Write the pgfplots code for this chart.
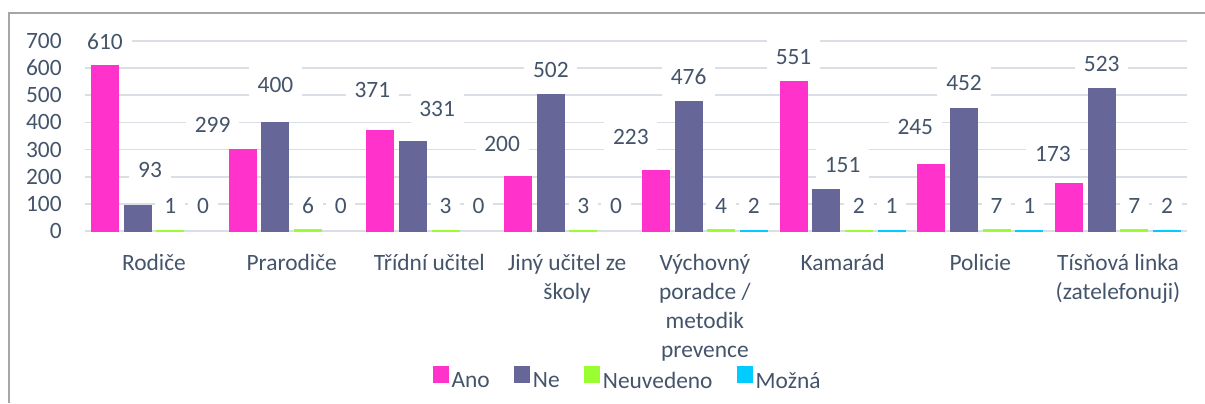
\documentclass[border=0pt]{standalone}
\usepackage{fontspec}
\setmainfont{Carlito}
\usepackage{pgfplots}
\pgfplotsset{compat=1.18}
\definecolor{ano}{HTML}{FF33CC}
\definecolor{ne}{HTML}{666699}
\definecolor{neuv}{HTML}{99FF33}
\definecolor{mozna}{HTML}{00CCFF}
\definecolor{txt}{HTML}{44546A}
\definecolor{gridc}{HTML}{DADEE5}
\definecolor{framec}{HTML}{A6A6A6}
\newcommand\cf{\fontsize{11.7}{14.5}\selectfont}
\newcommand\fs{\rule{0pt}{12pt}}
\pgfplotsset{
  barst/.style={ybar, bar width=13.4pt, line width=0.6pt, y filter/.expression={y==0 ? nan : y}},
  lbl/.style={draw=none, mark=none, forget plot, point meta=explicit symbolic,
    nodes near coords,
    every node near coord/.append style={anchor=center, fill=white, text=txt, font=\cf,
      inner xsep=4.4pt, inner ysep=0pt, minimum height=20pt}},
}
\begin{document}
\begin{tikzpicture}
\draw[framec, line width=1pt] (4.5pt,0pt) -- (4.5pt,195pt) -- (603pt,195pt);
\begin{axis}[
  at={(42.55pt,86pt)}, anchor=south west,
  scale only axis, width=550.9pt, height=95pt,
  xmin=-0.5, xmax=7.5, ymin=0, ymax=700, enlargelimits=false, clip=false,
  axis line style={draw=none}, major tick length=0pt,
  ymajorgrids, grid style={draw=gridc, line width=0.8pt},
  ytick={0,100,...,700},
  xtick={0,...,7},
  xticklabels={\fs Rodiče, \fs Prarodiče, \fs Třídní učitel, {\fs Jiný učitel ze\\školy}, {\fs Výchovný\\poradce /\\metodik\\prevence}, \fs Kamarád, \fs Policie, {\fs Tísňová linka\\(zatelefonuji)}},
  /pgf/number format/assume math mode=true,
  tick label style={font=\cf, text=txt},
  yticklabel style={anchor=east, inner sep=0pt, xshift=-11.5pt},
  xticklabel style={anchor=north, align=center, inner sep=0pt, yshift=-7.5pt},
  legend image code/.code={\fill[#1] (0pt,0pt) rectangle (7.5pt,7.5pt);},
  legend style={at={(axis description cs:0.4927,-0.789)}, anchor=center, draw=none, fill=none,
    legend columns=-1, font=\cf, text=txt, nodes={inner xsep=1.25pt},
    /tikz/every even column/.append style={column sep=11pt}},
]
\addplot[barst, bar shift=-24.5pt, fill=ano, draw=ano] coordinates {(0,610) (1,299) (2,371) (3,200) (4,223) (5,551) (6,245) (7,173)};
\addplot[barst, bar shift=-8.15pt, fill=ne, draw=ne] coordinates {(0,93) (1,400) (2,331) (3,502) (4,476) (5,151) (6,452) (7,523)};
\addplot[barst, bar shift=8.15pt, fill=neuv, draw=neuv] coordinates {(0,1) (1,6) (2,3) (3,3) (4,4) (5,2) (6,7) (7,7)};
\addplot[barst, bar shift=24.5pt, fill=mozna, draw=mozna] coordinates {(0,0) (1,0) (2,0) (3,0) (4,2) (5,1) (6,1) (7,2)};
\legend{Ano, Ne, Neuvedeno, Možná}
% data labels (value, label position)
\addplot[lbl] table[row sep=\\, meta=v] {x y v\\ -0.356 696 610\\ 0.426 390 299\\ 1.586 519 371\\ 2.528 320 200\\ 3.463 346 223\\ 4.644 641 551\\ 5.528 383 245\\ 6.528 284 173\\};
\addplot[lbl] table[row sep=\\, meta=v] {x y v\\ -0.028 225 93\\ 0.882 538 400\\ 2.056 450 331\\ 2.882 593 502\\ 3.882 567 476\\ 5.0 243 151\\ 5.882 545 452\\ 6.882 615 523\\};
\addplot[lbl] table[row sep=\\, meta=v] {x y v\\ 0.118 92 1\\ 1.118 92 6\\ 2.118 92 3\\ 3.118 92 3\\ 4.118 92 4\\ 5.118 92 2\\ 6.118 92 7\\ 7.118 92 7\\};
\addplot[lbl] table[row sep=\\, meta=v] {x y v\\ 0.356 92 0\\ 1.356 92 0\\ 2.356 92 0\\ 3.356 92 0\\ 4.356 92 2\\ 5.356 92 1\\ 6.356 92 1\\ 7.356 92 2\\};
\end{axis}
\pgfresetboundingbox
\useasboundingbox (0pt,0pt) rectangle (602.5pt,201.5pt);
\end{tikzpicture}
\end{document}
